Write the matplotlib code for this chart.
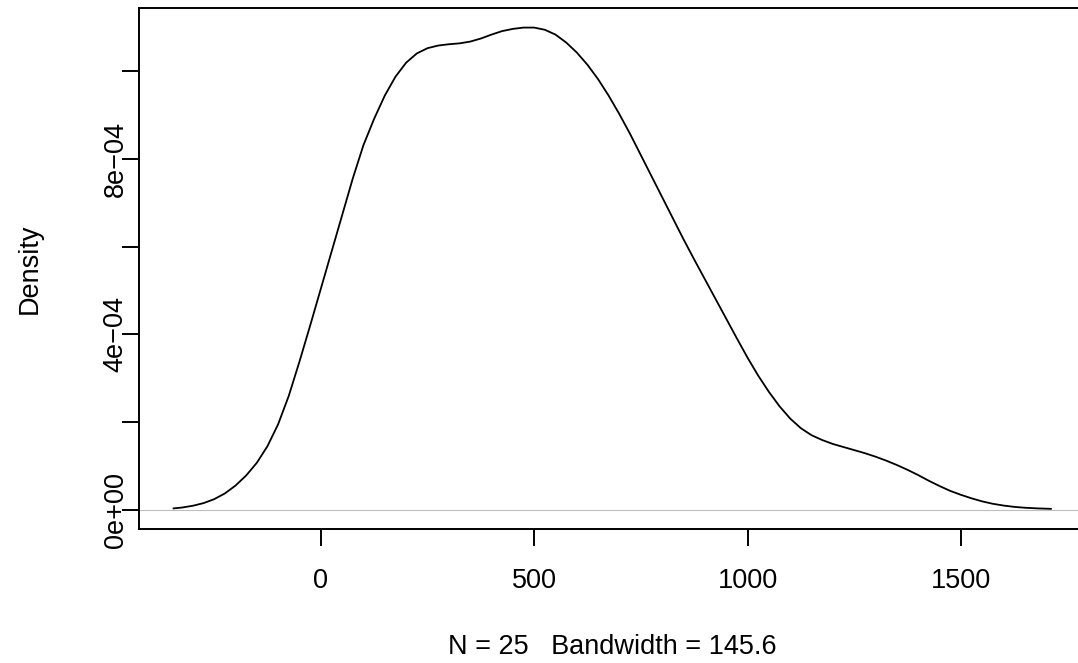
import matplotlib.pyplot as plt
from matplotlib.transforms import blended_transform_factory

plt.rcParams['font.family'] = ['Liberation Sans', 'DejaVu Sans']

# kernel density curve (density in 1e-4 units)
x_vals = [-345, -325, -300, -275, -250, -225, -200, -175, -150, -125, -100,
          -75, -50, -25, 0, 25, 50, 75, 100, 125, 150, 175, 200, 225, 250,
          275, 300, 325, 350, 375, 400, 425, 450, 475, 500, 525, 550, 575,
          600, 625, 650, 675, 700, 725, 750, 775, 800, 825, 850, 875, 900,
          925, 950, 975, 1000, 1025, 1050, 1075, 1100, 1125, 1150, 1175,
          1200, 1225, 1250, 1275, 1300, 1325, 1350, 1375, 1400, 1425, 1450,
          1475, 1500, 1525, 1550, 1575, 1600, 1625, 1650, 1680, 1711]
dens = [0.03, 0.05, 0.09, 0.15, 0.24, 0.37, 0.55, 0.78, 1.07, 1.45, 1.95,
        2.60, 3.38, 4.20, 5.04, 5.88, 6.72, 7.56, 8.32, 8.92, 9.45, 9.88,
        10.20, 10.41, 10.53, 10.59, 10.62, 10.64, 10.68, 10.75, 10.84, 10.92,
        10.97, 11.00, 11.00, 10.95, 10.84, 10.66, 10.43, 10.15, 9.82, 9.44,
        9.02, 8.57, 8.09, 7.61, 7.13, 6.65, 6.17, 5.71, 5.26, 4.81, 4.36,
        3.91, 3.47, 3.06, 2.69, 2.36, 2.08, 1.86, 1.70, 1.59, 1.50, 1.43,
        1.36, 1.29, 1.21, 1.12, 1.02, 0.91, 0.79, 0.66, 0.54, 0.43, 0.34,
        0.26, 0.19, 0.135, 0.095, 0.065, 0.045, 0.03, 0.02]
dens = [d * 1e-4 for d in dens]

x_ticks = [0, 500, 1000, 1500]
y_ticks = [0, 2e-4, 4e-4, 6e-4, 8e-4, 1e-3]
y_labels = {0: '0e+00', 4e-4: '4e\u221204', 8e-4: '8e\u221204'}
x_label = 'N = 25   Bandwidth = 145.6'
y_label = 'Density'

W, H = 1078, 663
fig = plt.figure(figsize=(W / 100, H / 100), dpi=100)
# plot region runs past the right edge of the picture, like the reference
ax = fig.add_axes([138.5 / W, 1 - 529 / H, (1086 - 138.5) / W, (529 - 8.3) / H])

ax.plot(x_vals, dens, color='black', lw=1.3)
ax.axhline(0, color='#BEBEBE', lw=0.8, zorder=0)

# R style limits: 4% padding
xr = max(x_vals) - min(x_vals)
ax.set_xlim(min(x_vals) - 0.04 * xr, max(x_vals) + 0.04 * xr)
ymax = max(dens)
ax.set_ylim(-0.04 * ymax, 1.04 * ymax)

for s in ax.spines.values():
    s.set_linewidth(1.4)
ax.set_xticks(x_ticks)
ax.set_yticks(y_ticks)
ax.tick_params(length=12.2, width=1.4, direction='out',
               labelbottom=False, labelleft=False)

fs = 19.5
tx = blended_transform_factory(ax.transData, fig.transFigure)
for v in x_ticks:
    fig.text(v, 1 - 588 / H, str(v), transform=tx, ha='center',
             va='baseline', fontsize=fs)
ty = blended_transform_factory(fig.transFigure, ax.transData)
for v, lab in y_labels.items():
    fig.text(122.7 / W, v, lab, transform=ty, rotation=90,
             rotation_mode='anchor', ha='center', va='baseline', fontsize=fs)

fig.text(612 / W, 1 - 653.5 / H, x_label, ha='center', va='baseline',
         fontsize=fs)
fig.text(36.5 / W, 1 - 268.7 / H, y_label, rotation=90, rotation_mode='anchor',
         ha='center', va='baseline', fontsize=fs)

fig.savefig('out.png', dpi=100)
